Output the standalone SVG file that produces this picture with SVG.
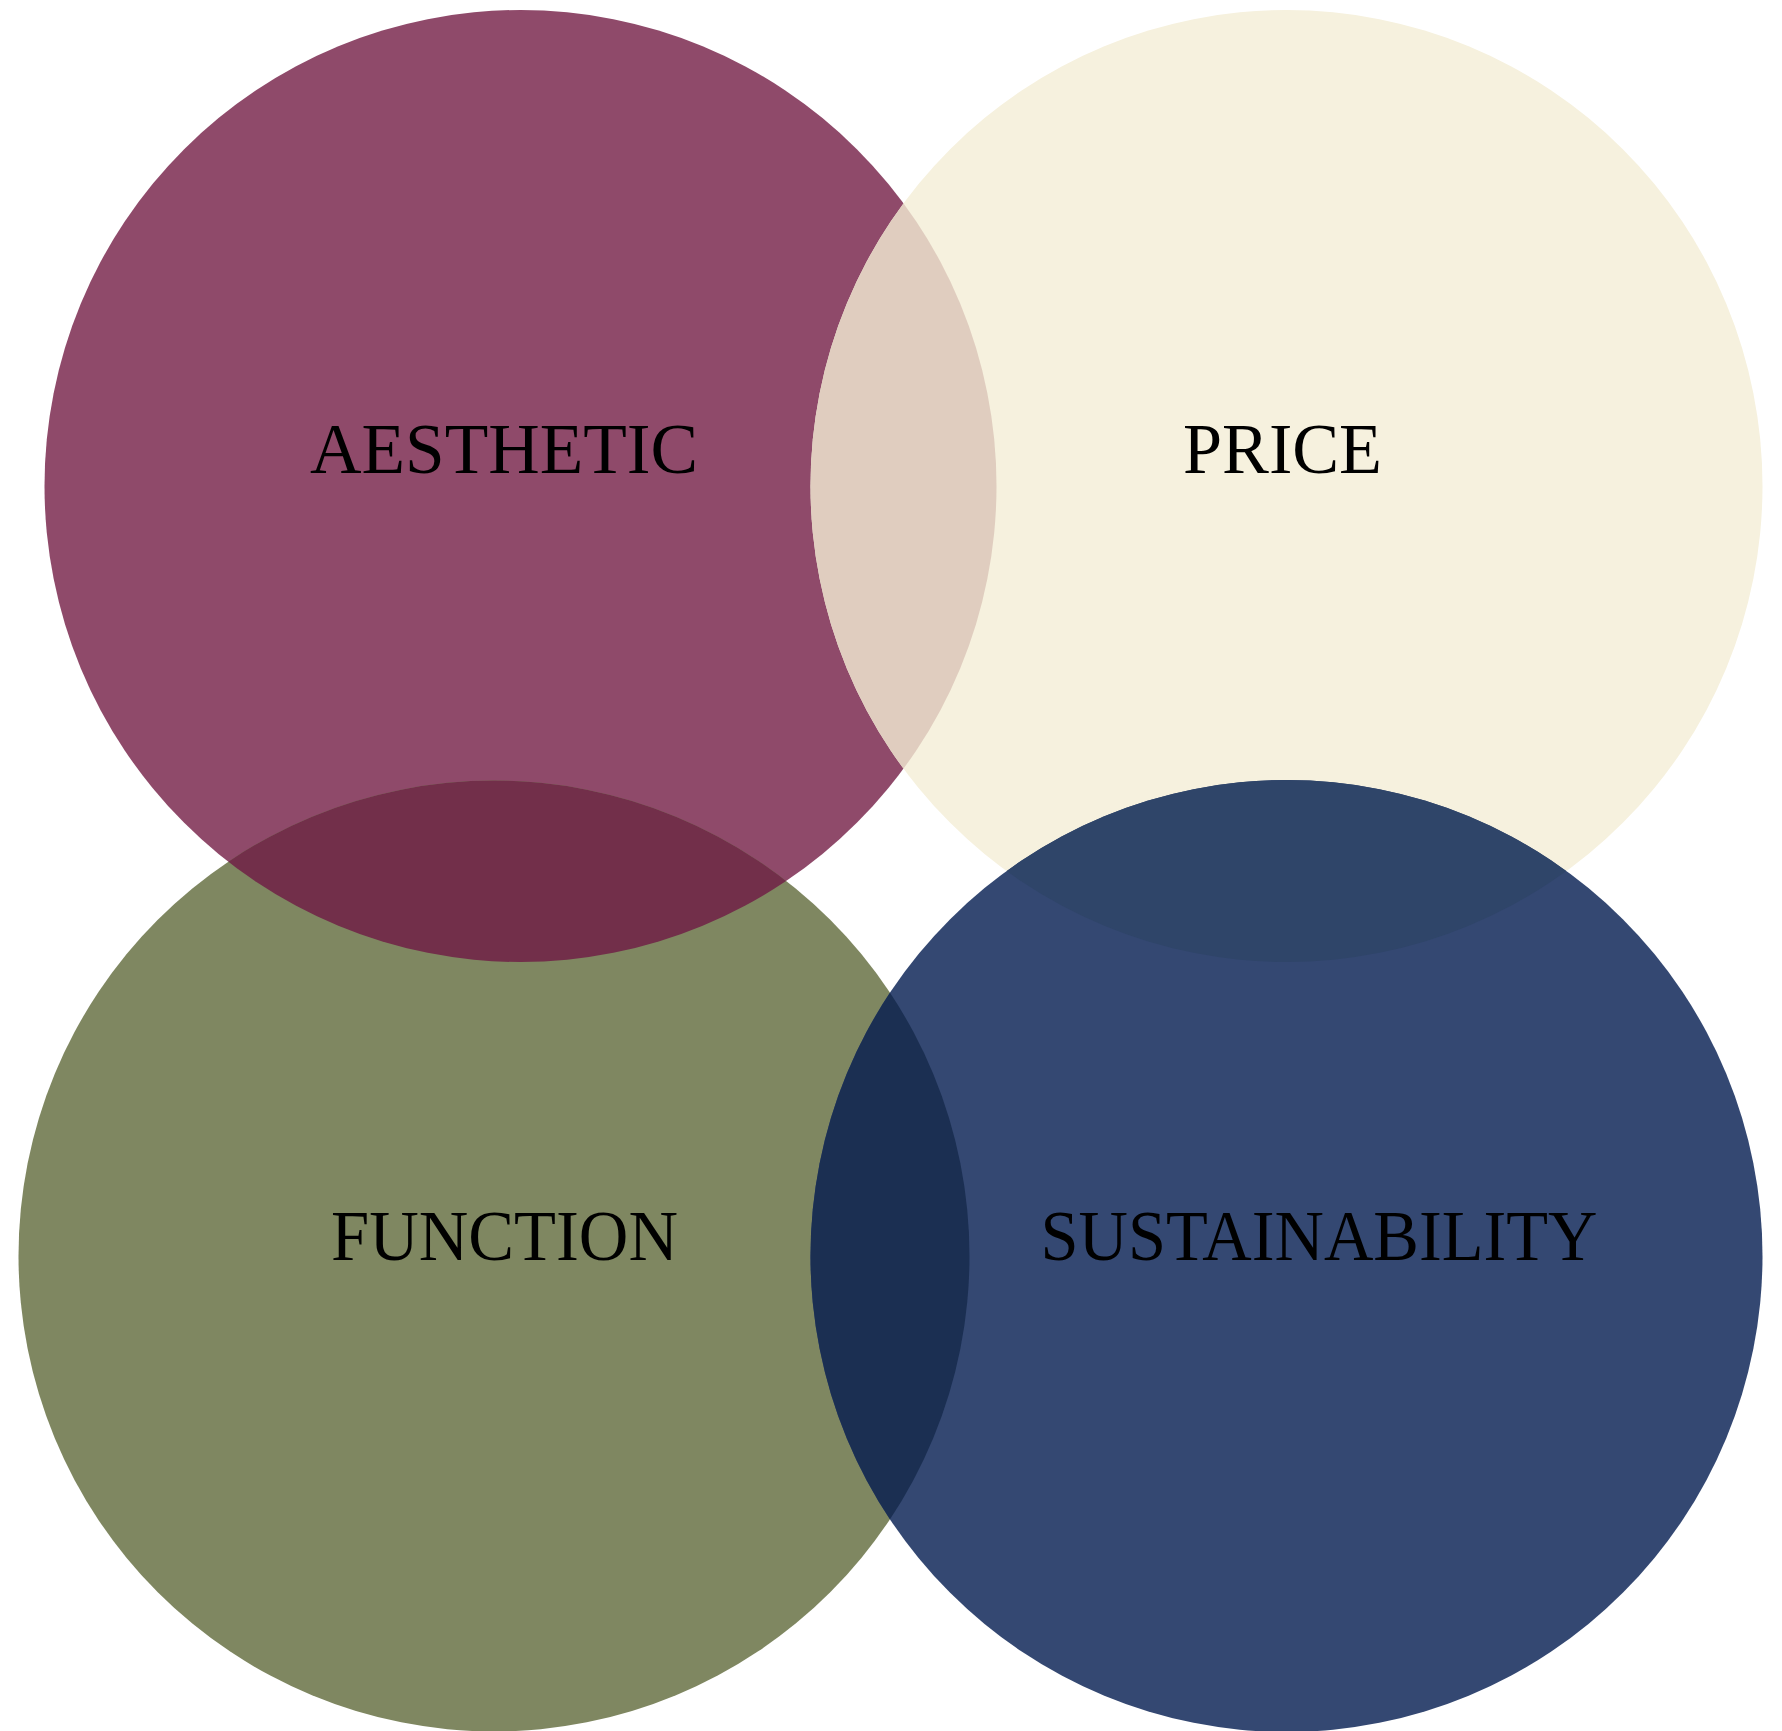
<svg xmlns="http://www.w3.org/2000/svg" width="1782" height="1731" viewBox="0 0 1782 1731">
<style>
.lbl{font-family:"Liberation Serif","DejaVu Serif",serif;font-size:72px;fill:#000;text-anchor:middle}
</style>
<defs>
<clipPath id="cA"><circle cx="520.5" cy="486" r="476"/></clipPath>
<clipPath id="cP"><circle cx="1286.5" cy="486" r="476"/></clipPath>
<clipPath id="cF"><circle cx="494" cy="1256" r="475.5"/></clipPath>
<clipPath id="cS"><circle cx="1286.5" cy="1256" r="476"/></clipPath>
</defs>
<rect width="1782" height="1731" fill="#fff"/>
<g id="aesthetic"><circle cx="520.5" cy="486" r="476" fill="#8f4a6a"/></g>
<g id="price"><circle cx="1286.5" cy="486" r="476" fill="#f6f1de"/></g>
<g id="function"><circle cx="494" cy="1256" r="475.5" fill="#7f8761"/></g>
<g id="sustainability"><circle cx="1286.5" cy="1256" r="476" fill="#344872"/></g>
<g id="overlaps">
<circle cx="1286.5" cy="486" r="476" fill="#e0cdbf" clip-path="url(#cA)"/>
<circle cx="494" cy="1256" r="475.5" fill="#722f4a" clip-path="url(#cA)"/>
<circle cx="1286.5" cy="1256" r="476" fill="#1b2f52" clip-path="url(#cF)"/>
<circle cx="1286.5" cy="486" r="476" fill="#2f4569" clip-path="url(#cS)"/>
</g>
<g id="labels">
<text class="lbl" x="504" y="473" textLength="388" lengthAdjust="spacingAndGlyphs">AESTHETIC</text>
<text class="lbl" x="1282.5" y="473" textLength="199" lengthAdjust="spacingAndGlyphs">PRICE</text>
<text class="lbl" x="504.5" y="1260" textLength="347" lengthAdjust="spacingAndGlyphs">FUNCTION</text>
<text class="lbl" x="1319" y="1260" textLength="557" lengthAdjust="spacingAndGlyphs">SUSTAINABILITY</text>
</g>
</svg>
